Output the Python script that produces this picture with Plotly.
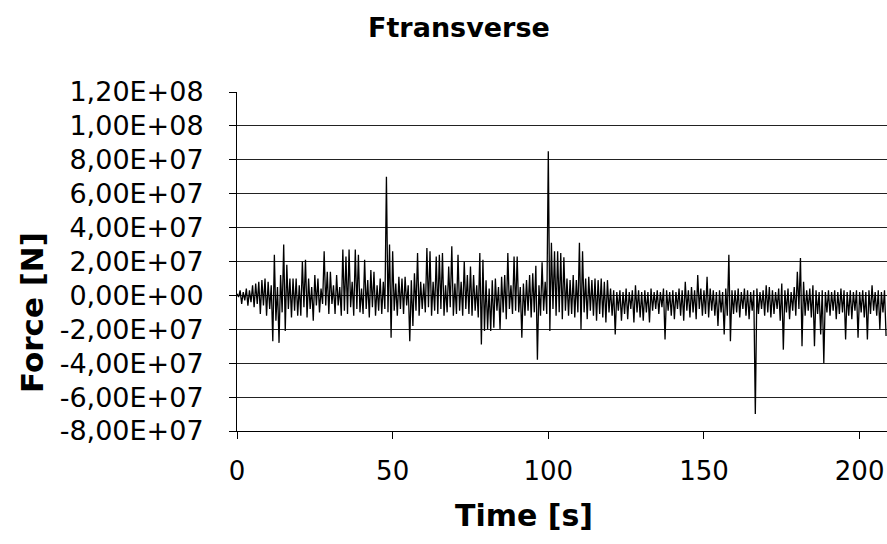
import plotly.graph_objects as go

# Time axis: one entry per second, t = 0 .. 208 s
# Per-second upper excursion of transverse force (units of 1e7 N)
force_up_1e7 = [
    0.1, 0.3, 0.2, 0.4, 0.3, 0.6, 0.7, 0.8, 0.9, 1.0,
    0.8, 0.6, 2.4, 0.5, 1.2, 3.0, 1.8, 1.0, 1.0, 1.0,
    0.6, 2.0, 2.1, 1.0, 0.5, 1.2, 1.0, 0.4, 2.6, 1.4,
    1.4, 0.6, 1.2, 0.5, 2.7, 2.3, 2.7, 0.8, 2.7, 2.4,
    0.4, 2.1, 0.9, 1.5, 1.4, 0.6, 1.0, 0.8, 7.0, 3.0,
    2.6, 0.7, 1.1, 1.0, 1.1, 0.6, 0.9, 1.3, 2.5, 0.8,
    0.7, 2.8, 2.6, 0.8, 2.3, 2.4, 2.5, 0.6, 1.7, 2.9,
    0.7, 2.4, 0.8, 2.0, 1.2, 1.7, 1.2, 0.6, 2.5, 2.1,
    0.9, 0.4, 0.9, 1.0, 0.5, 1.1, 1.2, 2.5, 0.6, 2.3,
    2.3, 0.5, 0.7, 0.9, 1.2, 1.3, 1.75, 0.6, 1.95, 0.8,
    8.5, 3.1, 2.6, 2.6, 2.5, 2.25, 1.0, 0.9, 1.2, 0.9,
    3.1, 2.6, 1.0, 1.1, 0.9, 1.0, 0.9, 1.0, 0.8, 0.9,
    0.4, 0.3, 0.2, 0.3, 0.2, 0.4, 0.2, 0.3, 0.6, 0.3,
    0.2, 0.3, 0.2, 0.4, 0.2, 0.3, 0.2, 0.4, 0.3, 0.2,
    0.3, 0.2, 0.4, 0.3, 0.8, 0.3, 0.5, 0.3, 1.2, 0.4,
    0.3, 1.1, 0.4, 0.3, 0.2, 0.3, 0.2, 0.4, 2.4, 0.3,
    0.3, 0.4, 0.2, 0.4, 0.3, 0.2, 0.3, 0.4, 0.2, 0.3,
    0.6, 0.5, 0.3, 0.2, 0.4, 0.7, 0.3, 0.4, 0.2, 0.5,
    1.4, 2.2, 0.8, 0.3, 0.4, 0.6, 0.3, 0.2, 0.3, 0.2,
    0.3, 0.2, 0.3, 0.2, 0.4, 0.3, 0.2, 0.3, 0.2, 0.3,
    0.2, 0.3, 0.2, 0.3, 0.6, 0.2, 0.3, 0.2, 0.3,
]

# Per-second lower excursion of transverse force (units of 1e7 N)
force_down_1e7 = [
    -0.1, -0.5, -0.3, -0.6, -0.4, -0.7, -0.5, -1.1, -0.6, -1.2,
    -0.8, -2.7, -1.5, -2.8, -1.0, -2.1, -0.8, -1.3, -0.9, -1.2,
    -1.2, -0.7, -1.3, -0.8, -1.5, -0.6, -1.0, -0.5, -0.6, -1.1,
    -0.5, -1.1, -0.6, -1.2, -0.9, -1.1, -0.7, -1.2, -0.8, -1.0,
    -1.1, -0.8, -1.3, -0.7, -1.2, -0.9, -1.1, -0.8, -1.0, -2.5,
    -0.9, -1.2, -0.8, -1.1, -0.6, -2.7, -1.8, -0.9, -1.2, -0.8,
    -1.0, -0.7, -1.2, -0.9, -1.1, -0.8, -1.2, -1.0, -0.7, -1.2,
    -1.1, -0.9, -1.2, -0.8, -1.1, -1.2, -0.9, -1.3, -2.9, -2.1,
    -2.0, -2.1, -1.9, -0.9, -2.0, -1.0, -1.4, -0.8, -1.1, -0.9,
    -1.0, -2.5, -1.2, -0.9, -1.3, -1.0, -3.8, -1.2, -0.9, -1.1,
    -2.1, -0.8, -1.2, -1.0, -1.4, -0.9, -1.2, -1.1, -1.3, -1.0,
    -2.0, -1.0, -1.4, -0.9, -1.2, -1.5, -1.1, -1.3, -1.6, -1.0,
    -1.2, -2.3, -0.9, -1.5, -1.1, -1.4, -0.8, -1.6, -1.0, -1.3,
    -1.5, -1.0, -1.6, -0.9, -0.8, -1.1, -0.7, -2.6, -0.9, -1.2,
    -1.4, -0.8, -1.2, -1.5, -0.9, -1.3, -1.0, -1.4, -0.8, -1.2,
    -1.1, -1.3, -0.9, -1.2, -1.8, -1.0, -2.3, -1.2, -2.7, -1.1,
    -1.0, -1.3, -0.8, -1.2, -1.4, -0.9, -7.0, -1.1, -0.8, -1.2,
    -1.0, -1.3, -1.1, -0.8, -1.5, -3.2, -1.0, -1.4, -0.9, -1.2,
    -0.8, -3.0, -1.2, -0.9, -1.3, -3.0, -1.1, -2.3, -4.0, -1.0,
    -1.2, -0.9, -1.4, -1.1, -1.0, -2.6, -1.2, -1.4, -0.9, -2.5,
    -1.0, -1.3, -2.6, -1.1, -0.9, -1.2, -2.0, -1.0, -2.4,
]

y_tick_values = [-8e7, -6e7, -4e7, -2e7, 0, 2e7, 4e7, 6e7, 8e7, 1e8, 1.2e8]
y_tick_labels = ["-8,00E+07", "-6,00E+07", "-4,00E+07", "-2,00E+07", "0,00E+00",
                 "2,00E+07", "4,00E+07", "6,00E+07", "8,00E+07", "1,00E+08", "1,20E+08"]
x_tick_values = [0, 50, 100, 150, 200]
x_tick_labels = ["0", "50", "100", "150", "200"]

UNIT = 1e7  # values above are in units of 1e7 N

# Build the signal: within each second, upper excursion then lower excursion
xs, ys = [], []
for t, (u, d) in enumerate(zip(force_up_1e7, force_down_1e7)):
    xs.append(t)
    ys.append(u * UNIT)
    xs.append(t + 0.5)
    ys.append(d * UNIT)

FONT = "DejaVu Sans, Liberation Sans, Arial, sans-serif"

fig = go.Figure()
fig.add_trace(go.Scatter(
    x=xs, y=ys, mode="lines",
    line=dict(color="#000000", width=1.3),
    hoverinfo="skip", showlegend=False,
))

fig.update_layout(
    width=887, height=544,
    margin=dict(l=237, r=0, t=92, b=113),
    paper_bgcolor="white", plot_bgcolor="white",
    font=dict(family=FONT, color="black"),
    showlegend=False,
)

fig.update_xaxes(
    range=[0, 208.8],
    tickvals=x_tick_values, ticktext=x_tick_labels,
    tickfont=dict(size=26, family=FONT, color="black"),
    ticks="outside", ticklen=7, tickcolor="black", tickwidth=1,
    showline=True, linecolor="black", linewidth=1,
    showgrid=False, zeroline=False,
    ticklabelstandoff=10,
)
fig.update_yaxes(
    range=[-8e7, 1.2e8],
    tickvals=y_tick_values, ticktext=y_tick_labels,
    tickfont=dict(size=27, family=FONT, color="black"),
    ticks="outside", ticklen=7, tickcolor="black", tickwidth=1,
    showline=True, linecolor="black", linewidth=1,
    showgrid=True, gridcolor="#222222", gridwidth=1,
    zeroline=False,
    ticklabelstandoff=20,
)

fig.add_annotation(
    text="<b>Ftransverse</b>", xref="paper", yref="paper",
    x=0.3415, y=1.189, xanchor="center", yanchor="middle",
    showarrow=False, font=dict(size=27, family=FONT, color="black"),
)
fig.add_annotation(
    text="<b>Force [N]</b>", xref="paper", yref="paper",
    x=-0.3154, y=0.351, xanchor="center", yanchor="middle",
    textangle=-90, showarrow=False,
    font=dict(size=31, family=FONT, color="black"),
)
fig.add_annotation(
    text="<b>Time [s]</b>", xref="paper", yref="paper",
    x=0.4415, y=-0.248, xanchor="center", yanchor="middle",
    showarrow=False, font=dict(size=30, family=FONT, color="black"),
)

fig.write_html(
    "out.html",
    config={"displayModeBar": False},
    post_script="document.body.style.margin='0';document.body.style.overflow='hidden';",
)
